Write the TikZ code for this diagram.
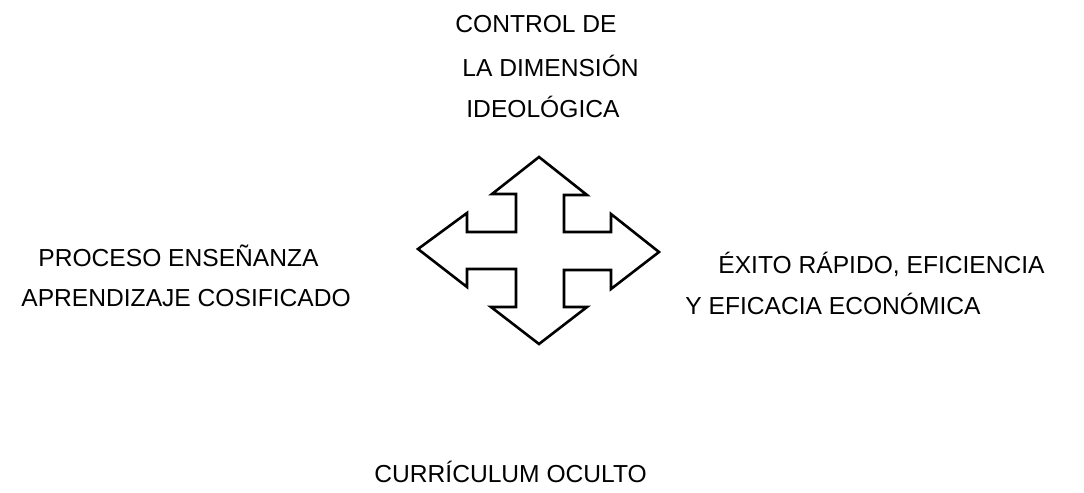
\documentclass[tikz,border=0pt]{standalone}
\usepackage{fontspec}
\setmainfont{Liberation Sans}
\newcommand{\lbl}{\fontsize{12.3}{14}\selectfont}

\begin{document}
\begin{tikzpicture}[
        x=0.5pt, y=-0.5pt,
        txt/.style={anchor=base west, inner sep=0pt, font=\lbl},
        cross/.style={draw, line width=1.3pt, line join=miter}
    ]
        \useasboundingbox (0, 0) rectangle (1084, 493);
        % top
        \node[txt] (ctrl1) at (455, 32) {CONTROL DE};
        \node[txt] (ctrl2) at (462, 76) {LA DIMENSIÓN};
        \node[txt] (ctrl3) at (466, 117) {IDEOLÓGICA};
        % left
        \node[txt] (proc1) at (38, 266) {PROCESO ENSEÑANZA};
        \node[txt] (proc2) at (21, 306) {APRENDIZAJE COSIFICADO};
        % right
        \node[txt] (exito1) at (718, 273) {ÉXITO RÁPIDO, EFICIENCIA};
        \node[txt] (exito2) at (685, 314) {Y EFICACIA ECONÓMICA};
        % bottom
        \node[txt] (curr) at (374, 482) {CURRÍCULUM OCULTO};
        % four-way arrow
        \draw[cross] (539, 157) -- (587, 195) -- (564, 195) -- (564, 232)
            -- (611, 232) -- (611, 214) -- (659, 252) -- (611, 289)
            -- (611, 270) -- (564, 270) -- (564, 307) -- (587, 307)
            -- (539, 344) -- (491, 307) -- (516, 307) -- (516, 269)
            -- (467, 269) -- (467, 287) -- (418, 249) -- (467, 213)
            -- (467, 232) -- (516, 232) -- (516, 194) -- (492, 194) -- cycle;
    \end{tikzpicture}
\end{document}
